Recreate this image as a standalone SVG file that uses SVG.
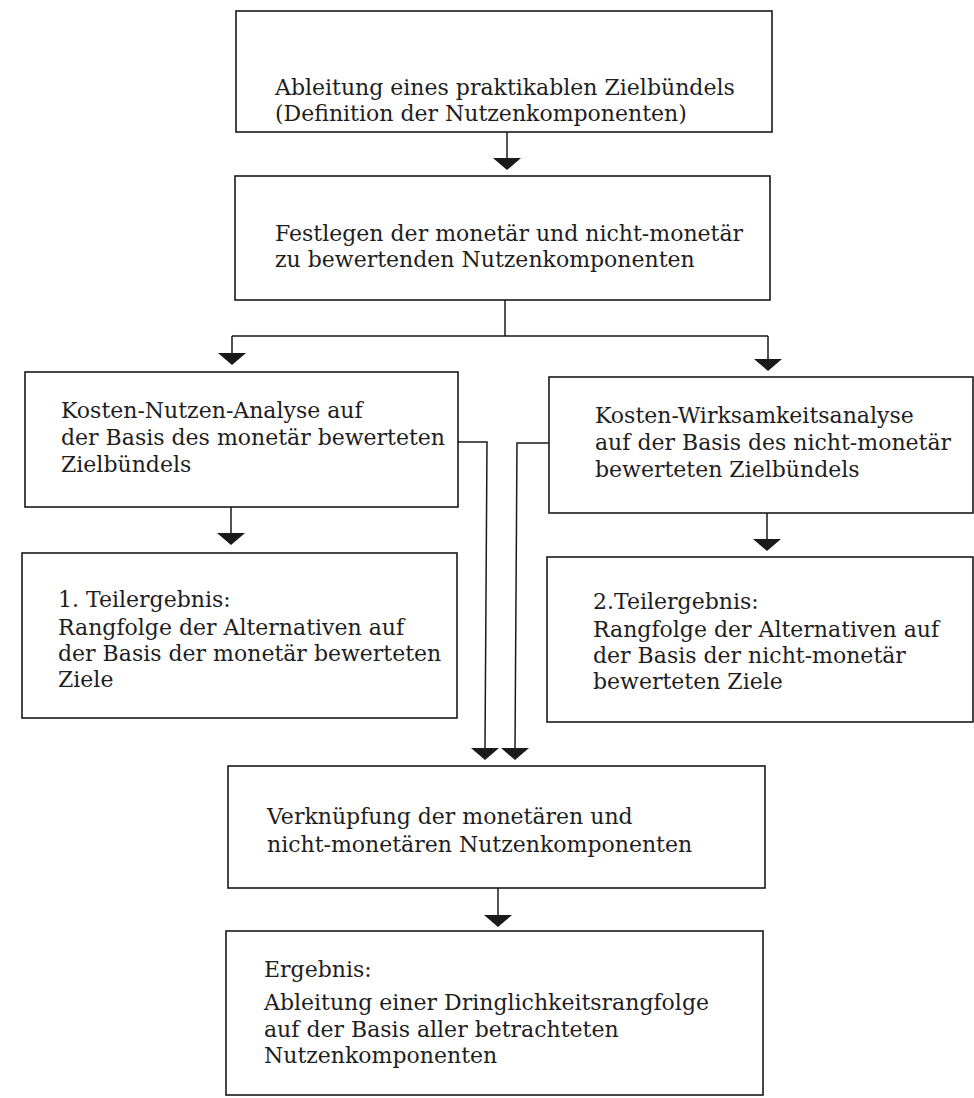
<svg xmlns="http://www.w3.org/2000/svg" width="974" height="1098" viewBox="0 0 974 1098">
<style>
  .box { fill: #ffffff; stroke: #1a1a1a; stroke-width: 1.6; }
  .lbl { font-family: "DejaVu Serif", "Liberation Serif", serif; font-size: 22px; fill: #1e1e1e; }
  .wire { fill: none; stroke: #1a1a1a; stroke-width: 1.5; }
  .head { fill: #1a1a1a; stroke: none; }
</style>
<rect width="974" height="1098" fill="#ffffff"/>

<g id="connectors">
  <path class="wire" d="M507,132 V159"/>
  <polygon class="head" points="493,158 521,158 507,170"/>

  <path class="wire" d="M505,300 V336 M232,336 H768 M232,336 V354 M768,336 V360"/>
  <polygon class="head" points="218,353 246,353 232,365"/>
  <polygon class="head" points="754,359 782,359 768,371"/>

  <path class="wire" d="M231,507 V534"/>
  <polygon class="head" points="217,533 245,533 231,545"/>

  <path class="wire" d="M767,513 V540"/>
  <polygon class="head" points="753,539 781,539 767,551"/>

  <path class="wire" d="M458,442 H487 L485,749"/>
  <polygon class="head" points="471,748 499,748 485,760"/>

  <path class="wire" d="M549,443 H517 L515,749"/>
  <polygon class="head" points="501,748 529,748 515,760"/>

  <path class="wire" d="M498,888 V916"/>
  <polygon class="head" points="484,915 512,915 498,927"/>
</g>

<g id="n1">
  <rect class="box" x="236" y="11" width="536" height="121"/>
  <text class="lbl" x="275" y="95">Ableitung eines praktikablen Zielbündels</text>
  <text class="lbl" x="275" y="121">(Definition der Nutzenkomponenten)</text>
</g>

<g id="n2">
  <rect class="box" x="235" y="176" width="535" height="124"/>
  <text class="lbl" x="275" y="241">Festlegen der monetär und nicht-monetär</text>
  <text class="lbl" x="275" y="267">zu bewertenden Nutzenkomponenten</text>
</g>

<g id="n3">
  <rect class="box" x="25" y="372" width="433" height="135"/>
  <text class="lbl" x="61" y="418">Kosten-Nutzen-Analyse auf</text>
  <text class="lbl" x="61" y="445">der Basis des monetär bewerteten</text>
  <text class="lbl" x="61" y="472">Zielbündels</text>
</g>

<g id="n4">
  <rect class="box" x="549" y="377" width="424" height="136"/>
  <text class="lbl" x="595" y="423">Kosten-Wirksamkeitsanalyse</text>
  <text class="lbl" x="595" y="450">auf der Basis des nicht-monetär</text>
  <text class="lbl" x="595" y="477">bewerteten Zielbündels</text>
</g>

<g id="n5">
  <rect class="box" x="22" y="553" width="435" height="165"/>
  <text class="lbl" x="58" y="607">1. Teilergebnis:</text>
  <text class="lbl" x="58" y="635">Rangfolge der Alternativen auf</text>
  <text class="lbl" x="58" y="661">der Basis der monetär bewerteten</text>
  <text class="lbl" x="58" y="687">Ziele</text>
</g>

<g id="n6">
  <rect class="box" x="547" y="557" width="426" height="165"/>
  <text class="lbl" x="593" y="609">2.Teilergebnis:</text>
  <text class="lbl" x="593" y="637">Rangfolge der Alternativen auf</text>
  <text class="lbl" x="593" y="663">der Basis der nicht-monetär</text>
  <text class="lbl" x="593" y="689">bewerteten Ziele</text>
</g>

<g id="n7">
  <rect class="box" x="228" y="766" width="537" height="122"/>
  <text class="lbl" x="267" y="824">Verknüpfung der monetären und</text>
  <text class="lbl" x="267" y="852">nicht-monetären Nutzenkomponenten</text>
</g>

<g id="n8">
  <rect class="box" x="226" y="931" width="537" height="164"/>
  <text class="lbl" x="264" y="977">Ergebnis:</text>
  <text class="lbl" x="264" y="1010">Ableitung einer Dringlichkeitsrangfolge</text>
  <text class="lbl" x="264" y="1037">auf der Basis aller betrachteten</text>
  <text class="lbl" x="264" y="1063">Nutzenkomponenten</text>
</g>
</svg>
